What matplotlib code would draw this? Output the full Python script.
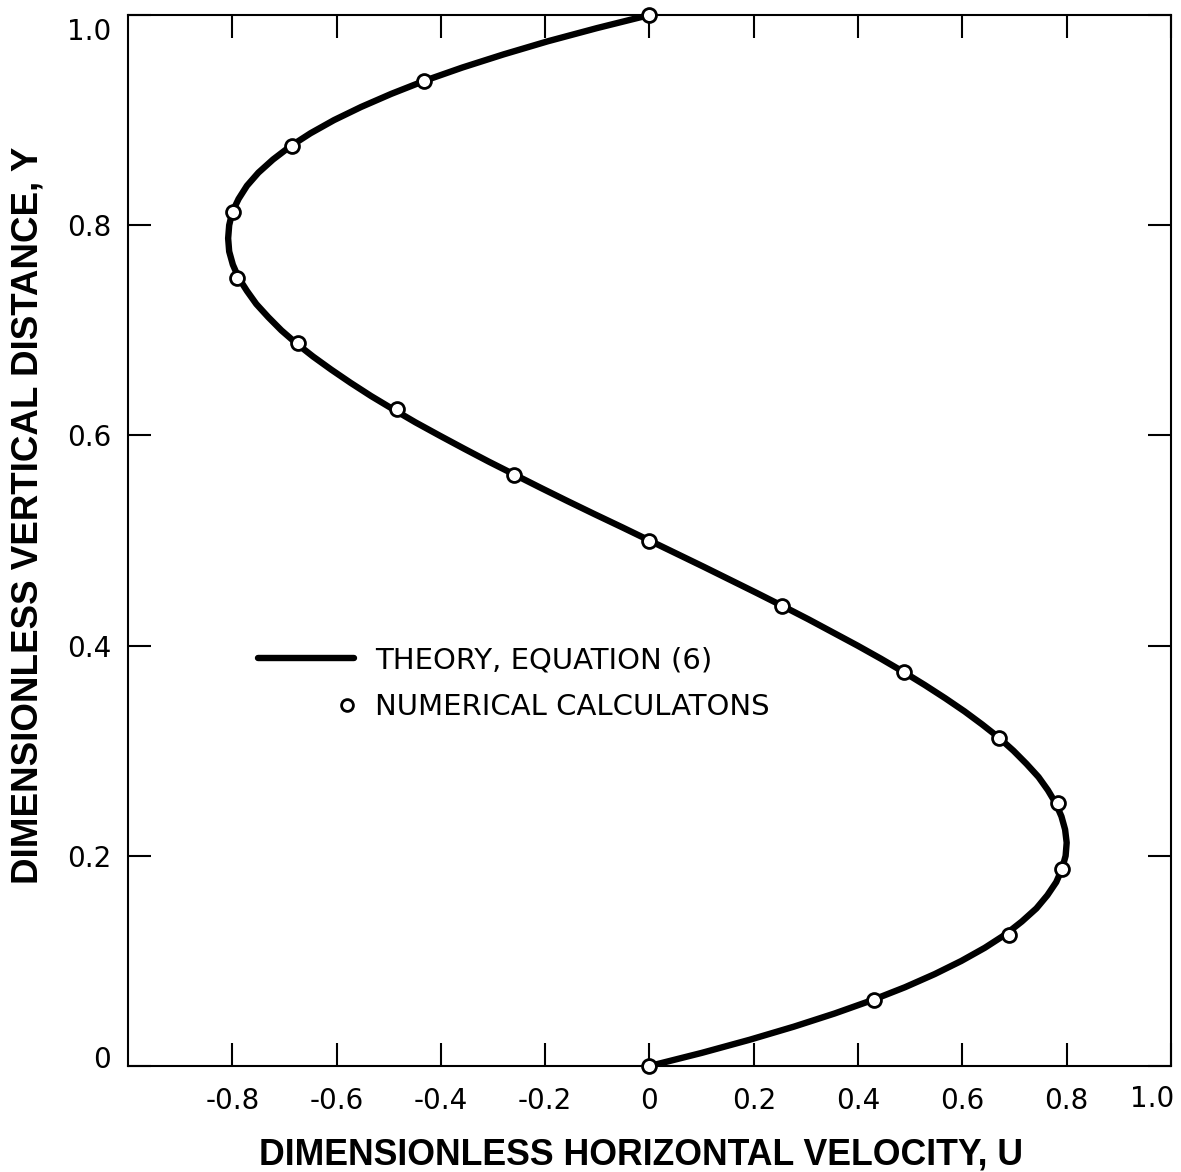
import numpy as np
import matplotlib
matplotlib.use('Agg')
import matplotlib.pyplot as plt
from matplotlib.legend_handler import HandlerLine2DCompound
from matplotlib.transforms import ScaledTranslation

# ── Data ──────────────────────────────────────────────────────────────────────
# Theory curve, equation (6): U against Y
Y_THEORY = [0.0000, 0.0125, 0.0250, 0.0375, 0.0500, 0.0625, 0.0750, 0.0875,
            0.1000, 0.1125, 0.1250, 0.1375, 0.1500, 0.1625, 0.1750, 0.1875,
            0.2000, 0.2125, 0.2250, 0.2375, 0.2500, 0.2625, 0.2750, 0.2875,
            0.3000, 0.3125, 0.3250, 0.3375, 0.3500, 0.3625, 0.3750, 0.3875,
            0.4000, 0.4125, 0.4250, 0.4375, 0.4500, 0.4625, 0.4750, 0.4875,
            0.5000, 0.5125, 0.5250, 0.5375, 0.5500, 0.5625, 0.5750, 0.5875,
            0.6000, 0.6125, 0.6250, 0.6375, 0.6500, 0.6625, 0.6750, 0.6875,
            0.7000, 0.7125, 0.7250, 0.7375, 0.7500, 0.7625, 0.7750, 0.7875,
            0.8000, 0.8125, 0.8250, 0.8375, 0.8500, 0.8625, 0.8750, 0.8875,
            0.9000, 0.9125, 0.9250, 0.9375, 0.9500, 0.9625, 0.9750, 0.9875,
            1.0000]
U_THEORY = [0.000, 0.100, 0.192, 0.277, 0.355, 0.426, 0.490, 0.547,
            0.598, 0.643, 0.682, 0.714, 0.742, 0.763, 0.780, 0.791,
            0.798, 0.800, 0.797, 0.790, 0.779, 0.764, 0.746, 0.723,
            0.698, 0.670, 0.638, 0.604, 0.567, 0.528, 0.487, 0.444,
            0.399, 0.352, 0.305, 0.256, 0.206, 0.155, 0.104, 0.052,
            0.000, -0.052, -0.105, -0.157, -0.208, -0.258, -0.308, -0.356,
            -0.403, -0.449, -0.492, -0.534, -0.573, -0.610, -0.645, -0.677,
            -0.706, -0.731, -0.754, -0.772, -0.788, -0.799, -0.806, -0.808,
            -0.806, -0.800, -0.788, -0.772, -0.750, -0.722, -0.689, -0.650,
            -0.605, -0.553, -0.495, -0.431, -0.359, -0.280, -0.195, -0.101,
            0.000]

# Numerical calculations
Y_NUM = [0.0, 0.0625, 0.125, 0.1875, 0.25, 0.3125, 0.375, 0.4375, 0.5,
         0.5625, 0.625, 0.6875, 0.75, 0.8125, 0.875, 0.9375, 1.0]
U_NUM = [0.0, 0.43, 0.689, 0.791, 0.783, 0.670, 0.489, 0.255, 0.0,
         -0.259, -0.484, -0.674, -0.791, -0.799, -0.685, -0.432, 0.0]

X_TICKS = [-0.8, -0.6, -0.4, -0.2, 0.0, 0.2, 0.4, 0.6, 0.8, 1.0]
X_TICKLABELS = ['-0.8', '-0.6', '-0.4', '-0.2', '0', '0.2', '0.4', '0.6', '0.8', '1.0']
Y_TICKS = [0.0, 0.2, 0.4, 0.6, 0.8, 1.0]
Y_TICKLABELS = ['0', '0.2', '0.4', '0.6', '0.8', '1.0']

# ── Style ─────────────────────────────────────────────────────────────────────
TICK_FONT = ['DejaVu Sans']
LABEL_FONT = ['Liberation Sans', 'DejaVu Sans']


class HandlerMarkerRight(HandlerLine2DCompound):
    """Legend handler that puts a lone marker near the right end of the handle."""
    def get_xdata(self, legend, xdescent, ydescent, width, height, fontsize):
        xdata, _ = super().get_xdata(legend, xdescent, ydescent, width, height, fontsize)
        return xdata, np.array([-xdescent + width - 0.25 * fontsize])


fig = plt.figure(figsize=(11.81, 11.72), dpi=100)
ax = fig.add_axes([0.1084, 0.0904, 0.8831, 0.8968])

theory, = ax.plot(U_THEORY, Y_THEORY, color='black', lw=4.6,
                  solid_joinstyle='round', solid_capstyle='round',
                  label='THEORY, EQUATION (6)', zorder=3)
numeric, = ax.plot(U_NUM, Y_NUM, ls='none', marker='o', ms=10, mew=2.0,
                   mfc='white', mec='black', clip_on=False,
                   label='NUMERICAL CALCULATONS', zorder=4)

ax.set_xlim(-1.0, 1.0)
ax.set_ylim(0.0, 1.0)
ax.set_xticks(X_TICKS)
ax.set_xticklabels(X_TICKLABELS)
ax.set_yticks(Y_TICKS)
ax.set_yticklabels(Y_TICKLABELS)

ax.tick_params(direction='in', length=16.5, width=1.5, top=True, right=True,
               labelsize=20, colors='black')
ax.tick_params(axis='x', pad=15)
ax.tick_params(axis='y', pad=12)
for lab in ax.get_xticklabels() + ax.get_yticklabels():
    lab.set_family(TICK_FONT)

for sp in ax.spines.values():
    sp.set_linewidth(1.5)

# nudge the corner labels the way they were lettered
dpi_tr = fig.dpi_scale_trans
xl = ax.get_xticklabels()
xl[-1].set_transform(xl[-1].get_transform() + ScaledTranslation(-0.19, 0.02, dpi_tr))
yl = ax.get_yticklabels()
yl[-1].set_transform(yl[-1].get_transform() + ScaledTranslation(0, -0.14, dpi_tr))
yl[0].set_transform(yl[0].get_transform() + ScaledTranslation(0, 0.09, dpi_tr))

ax.set_xlabel('DIMENSIONLESS HORIZONTAL VELOCITY, U', fontsize=25.7,
              fontweight='bold', family=LABEL_FONT, va='top')
ax.xaxis.set_label_coords(0.492, -0.0676)
ax.set_ylabel('DIMENSIONLESS VERTICAL DISTANCE, Y', fontsize=26.5,
              fontweight='bold', family=LABEL_FONT)
ax.yaxis.set_label_coords(-0.0796, 0.524)

leg = ax.legend(handles=[theory, numeric], loc='upper left',
                bbox_to_anchor=(0.1246, 0.399), frameon=False,
                borderpad=0, borderaxespad=0, handlelength=3.3,
                handletextpad=0.7, labelspacing=0.62, markerscale=0.85,
                prop={'family': TICK_FONT, 'size': 21},
                handler_map={numeric: HandlerMarkerRight()})

fig.savefig('out.png', dpi=100)
